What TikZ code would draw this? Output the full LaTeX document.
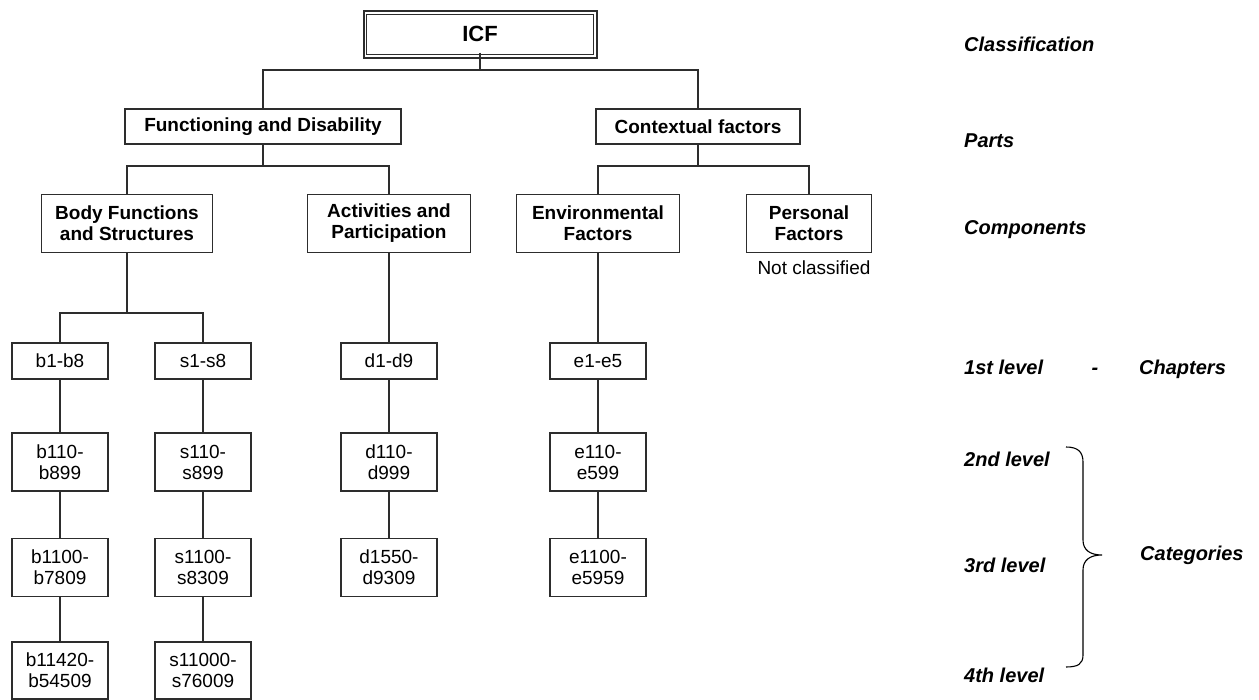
\documentclass[tikz,border=0pt]{standalone}
\usepackage{fontspec}
\setmainfont{Liberation Sans}
\definecolor{linec}{RGB}{45,45,45}
\tikzset{
  txt/.style={font=\fontsize{19}{21}\selectfont, text=black, align=center, inner sep=0pt},
  box/.style={txt, draw=linec, line width=1.1pt, rectangle},
  bbox/.style={box, font=\fontsize{19}{21}\selectfont\bfseries},
  lvl/.style={box, minimum width=96pt},
  lab/.style={txt, anchor=base west, font=\fontsize{20}{22}\selectfont\bfseries\itshape},
  conn/.style={draw=linec, line width=1.1pt},
}
\begin{document}
\begin{tikzpicture}[x=1pt, y=-1pt]
\useasboundingbox (0,0) rectangle (1259,700);
% root
\node[box, line width=2pt, minimum width=233pt, minimum height=46.5pt,
      font=\fontsize{22}{25}\selectfont\bfseries] (icf) at (480,34.3) {ICF};
\draw[conn] ([shift={(4.2,4.2)}]icf.north west) rectangle ([shift={(-4.2,-4.2)}]icf.south east);
% parts
\node[bbox, minimum width=276pt, minimum height=35pt] (fd) at (263,126.5) {Functioning and Disability};
\node[bbox, minimum width=204pt, minimum height=35pt] (cf) at (698,126.5) {Contextual factors};
% components
\node[bbox, minimum width=171pt, minimum height=58pt] (bfs) at (127,223.5) {Body Functions\\and Structures};
\node[bbox, minimum width=163pt, minimum height=58pt] (act) at (389,223.5) {Activities and\\Participation};
\node[bbox, minimum width=163pt, minimum height=58pt] (env) at (598,223.5) {Environmental\\Factors};
\node[bbox, minimum width=125pt, minimum height=58pt] (pers) at (809,223.5) {Personal\\Factors};
\node[txt, anchor=base] (notc) at (814,275) {Not classified};
% level 1
\node[lvl, minimum height=36pt] (b1) at (60,361) {b1-b8};
\node[lvl, minimum height=36pt] (s1) at (203,361) {s1-s8};
\node[lvl, minimum height=36pt] (d1) at (389,361) {d1-d9};
\node[lvl, minimum height=36pt] (e1) at (598,361) {e1-e5};
% level 2
\node[lvl, minimum height=58pt] (b2) at (60,462) {b110-\\b899};
\node[lvl, minimum height=58pt] (s2) at (203,462) {s110-\\s899};
\node[lvl, minimum height=58pt] (d2) at (389,462) {d110-\\d999};
\node[lvl, minimum height=58pt] (e2) at (598,462) {e110-\\e599};
% level 3
\node[lvl, minimum height=58pt] (b3) at (60,567.5) {b1100-\\b7809};
\node[lvl, minimum height=58pt] (s3) at (203,567.5) {s1100-\\s8309};
\node[lvl, minimum height=58pt] (d3) at (389,567.5) {d1550-\\d9309};
\node[lvl, minimum height=58pt] (e3) at (598,567.5) {e1100-\\e5959};
% level 4
\node[lvl, minimum height=57pt] (b4) at (60,670.5) {b11420-\\b54509};
\node[lvl, minimum height=57pt] (s4) at (203,670.5) {s11000-\\s76009};
% junction coordinates
\coordinate (j0) at (480,70);
\coordinate (j1) at (263,166);
\coordinate (j2) at (698,166);
\coordinate (j3) at (127,313);
% connectors
\draw[conn] ([yshift=6pt]icf.south) -- (j0);
\draw[conn] (fd.north) |- (j0) -| (cf.north);
\draw[conn] (fd.south) -- (j1);
\draw[conn] (bfs.north) |- (j1) -| (act.north);
\draw[conn] (cf.south) -- (j2);
\draw[conn] (env.north) |- (j2) -| (pers.north);
\draw[conn] (bfs.south) -- (j3);
\draw[conn] (b1.north) |- (j3) -| (s1.north);
\draw[conn] (act.south) -- (d1.north);
\draw[conn] (env.south) -- (e1.north);
\draw[conn] (b1) -- (b2); \draw[conn] (b2) -- (b3); \draw[conn] (b3) -- (b4);
\draw[conn] (s1) -- (s2); \draw[conn] (s2) -- (s3); \draw[conn] (s3) -- (s4);
\draw[conn] (d1) -- (d2); \draw[conn] (d2) -- (d3);
\draw[conn] (e1) -- (e2); \draw[conn] (e2) -- (e3);
% right labels
\node[lab] (lclass) at (964,52) {Classification};
\node[lab] (lparts) at (964,148) {Parts};
\node[lab] (lcomp) at (964,235) {Components};
\node[lab] (l1) at (964,375) {1st level};
\node[lab, anchor=base] (ldash) at (1095,375) {-};
\node[lab] (lchap) at (1139,375) {Chapters};
\node[lab] (l2) at (964,467) {2nd level};
\node[lab] (l3) at (964,572) {3rd level};
\node[lab] (l4) at (964,682) {4th level};
\node[lab] (lcat) at (1140,560) {Categories};
% brace
\draw[line width=1.1pt, black] (1066,447) .. controls (1078,447) and (1083,452) .. (1083,462)
  -- (1083,540) .. controls (1083,550) and (1090,555) .. (1102,555)
  .. controls (1090,555) and (1083,560) .. (1083,570)
  -- (1083,655) .. controls (1083,664) and (1078,667) .. (1066,667);
\end{tikzpicture}
\end{document}
